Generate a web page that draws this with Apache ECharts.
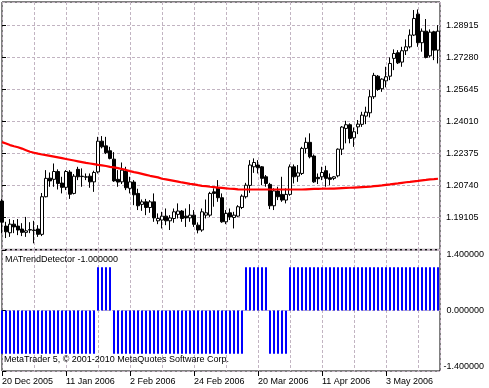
<!DOCTYPE html>
<html><head><meta charset="utf-8">
<script src="https://cdn.jsdelivr.net/npm/echarts@6/dist/echarts.min.js"></script>
<style>html,body{margin:0;padding:0;background:#fff}#c{width:489px;height:388px}</style>
</head><body><div id="c"></div>
<script>
// x-axis tick labels (bar index -> date)
const tickLabels = ['20 Dec 2005','11 Jan 2006','2 Feb 2006','24 Feb 2006','20 Mar 2006','11 Apr 2006','3 May 2006'];
const tickIndex = [0,16,32,48,64,80,96];

const open = [1.1994,1.1866,1.1832,1.1876,1.1866,1.1851,1.1834,1.1846,1.1843,1.1851,
1.1824,1.2016,1.2111,1.2105,1.2145,1.2086,1.2064,1.2142,1.2033,1.2156,
1.2121,1.2116,1.2121,1.2092,1.2143,1.2300,1.2276,1.2251,1.2208,1.2105,
1.2092,1.2147,1.2059,1.2091,1.2033,1.1977,1.1990,1.1961,1.1990,1.1893,
1.1897,1.1917,1.1893,1.1905,1.1926,1.1943,1.1917,1.1908,1.1922,1.1871,
1.1846,1.1922,1.1922,1.2041,1.2062,1.2011,1.1888,1.1934,1.1910,1.1917,
1.1961,1.2016,1.2074,1.2169,1.2178,1.2169,1.2118,1.2079,1.1970,1.2045,
1.2028,1.1999,1.2028,1.2169,1.2121,1.2135,1.2263,1.2294,1.2224,1.2115,
1.2118,1.2149,1.2113,1.2110,1.2123,1.2259,1.2365,1.2384,1.2317,1.2373,
1.2386,1.2428,1.2445,1.2527,1.2632,1.2568,1.2608,1.2632,1.2723,1.2752,
1.2704,1.2762,1.2782,1.2842,1.2949,1.2803,1.2862,1.2736,1.2859,1.2765];

const close = [1.1886,1.1837,1.1876,1.1862,1.1846,1.1834,1.1842,1.1848,1.1846,1.1824,
1.2016,1.2110,1.2097,1.2145,1.2084,1.2064,1.2145,1.2029,1.2121,1.2118,
1.2119,1.2118,1.2092,1.2140,1.2300,1.2271,1.2241,1.2212,1.2097,1.2091,
1.2152,1.2062,1.2092,1.2026,1.1970,1.1990,1.1961,1.1990,1.1908,1.1905,
1.1917,1.1893,1.1908,1.1939,1.1943,1.1905,1.1908,1.1922,1.1875,1.1846,
1.1939,1.1934,1.2033,1.2033,1.2011,1.1888,1.1931,1.1913,1.1922,1.1965,
1.2019,1.2075,1.2178,1.2191,1.2164,1.2110,1.2084,1.1970,1.2046,1.2016,
1.1999,1.2028,1.2169,1.2118,1.2138,1.2263,1.2294,1.2220,1.2092,1.2108,
1.2140,1.2110,1.2105,1.2118,1.2259,1.2372,1.2384,1.2314,1.2348,1.2387,
1.2433,1.2448,1.2527,1.2636,1.2564,1.2617,1.2629,1.2697,1.2748,1.2700,
1.2762,1.2782,1.2842,1.2927,1.2803,1.2862,1.2728,1.2857,1.2765,1.2862];

const high = [1.2004,1.1888,1.1902,1.1897,1.1902,1.1881,1.1913,1.1886,1.1893,1.1871,
1.2035,1.2152,1.2140,1.2186,1.2156,1.2118,1.2152,1.2152,1.2132,1.2169,
1.2161,1.2135,1.2135,1.2149,1.2322,1.2326,1.2322,1.2271,1.2244,1.2152,
1.2191,1.2169,1.2118,1.2101,1.2057,1.2002,1.2005,1.1999,1.2033,1.1931,
1.1939,1.1956,1.1922,1.1956,1.1982,1.1948,1.1956,1.1978,1.1948,1.1885,
1.1956,1.2002,1.2041,1.2059,1.2101,1.2033,1.1948,1.1956,1.1939,1.1973,
1.2028,1.2087,1.2203,1.2212,1.2203,1.2173,1.2127,1.2087,1.2059,1.2067,
1.2118,1.2059,1.2181,1.2181,1.2178,1.2271,1.2319,1.2340,1.2232,1.2135,
1.2169,1.2174,1.2135,1.2121,1.2263,1.2377,1.2404,1.2391,1.2370,1.2408,
1.2450,1.2476,1.2561,1.2649,1.2638,1.2621,1.2680,1.2728,1.2769,1.2765,
1.2782,1.2820,1.2871,1.2970,1.2973,1.2876,1.2924,1.2871,1.2864,1.2893];

const low = [1.1830,1.1805,1.1811,1.1830,1.1820,1.1815,1.1811,1.1830,1.1778,1.1811,
1.1815,1.2013,1.2067,1.2067,1.2053,1.2033,1.2050,1.2005,1.2028,1.2101,
1.2067,1.2101,1.2062,1.2041,1.2135,1.2263,1.2234,1.2207,1.2092,1.2067,
1.2081,1.2050,1.2033,1.1973,1.1948,1.1944,1.1922,1.1934,1.1888,1.1876,
1.1854,1.1871,1.1846,1.1883,1.1905,1.1888,1.1862,1.1888,1.1862,1.1829,
1.1837,1.1905,1.1913,1.1965,1.1990,1.1883,1.1876,1.1897,1.1854,1.1913,
1.1953,1.2007,1.2036,1.2138,1.2135,1.2075,1.2067,1.1953,1.1948,1.1999,
1.1990,1.1982,1.2021,1.2084,1.2092,1.2127,1.2237,1.2212,1.2087,1.2081,
1.2101,1.2067,1.2075,1.2101,1.2115,1.2229,1.2289,1.2289,1.2271,1.2336,
1.2373,1.2387,1.2421,1.2516,1.2557,1.2552,1.2575,1.2612,1.2663,1.2694,
1.2680,1.2740,1.2774,1.2837,1.2782,1.2757,1.2723,1.2728,1.2714,1.2697];

const ma = [1.2295,1.2288,1.2280,1.2274,1.2269,1.2262,1.2254,1.2246,1.2241,1.2236,
1.2232,1.2229,1.2225,1.2221,1.2217,1.2213,1.2209,1.2205,1.2201,1.2197,
1.2193,1.2189,1.2186,1.2183,1.2179,1.2176,1.2173,1.2169,1.2166,1.2162,
1.2158,1.2153,1.2147,1.2142,1.2138,1.2133,1.2128,1.2123,1.2119,1.2115,
1.2108,1.2105,1.2101,1.2097,1.2093,1.2089,1.2086,1.2082,1.2079,1.2075,
1.2072,1.2070,1.2067,1.2065,1.2063,1.2061,1.2059,1.2057,1.2056,1.2054,
1.2053,1.2053,1.2053,1.2053,1.2053,1.2053,1.2053,1.2053,1.2053,1.2053,
1.2053,1.2053,1.2053,1.2053,1.2053,1.2053,1.2054,1.2055,1.2056,1.2056,
1.2057,1.2057,1.2058,1.2058,1.2059,1.2060,1.2061,1.2062,1.2063,1.2064,
1.2065,1.2066,1.2067,1.2070,1.2072,1.2074,1.2077,1.2079,1.2082,1.2084,
1.2087,1.2090,1.2092,1.2095,1.2097,1.2100,1.2102,1.2105,1.2106,1.2108];

const trend = [-1,-1,-1,-1,-1,-1,-1,-1,-1,-1,-1,-1,-1,-1,-1,-1,-1,-1,-1,-1,-1,-1,-1,-1,
1,1,1,1,
-1,-1,-1,-1,-1,-1,-1,-1,-1,-1,-1,-1,-1,-1,-1,-1,-1,-1,-1,-1,-1,-1,-1,-1,-1,-1,-1,-1,-1,-1,-1,-1,-1,
1,1,1,1,1,1,
-1,-1,-1,-1,-1,
1,1,1,1,1,1,1,1,1,1,1,1,1,1,1,1,1,1,1,1,1,1,1,1,1,1,1,1,1,1,1,1,1,1,1,1,1,1];

const indicatorLabel = 'MATrendDetector -1.000000';
const copyright = 'MetaTrader 5, \u00a9 2001-2010 MetaQuotes Software Corp.';

const FONT = 'Liberation Sans';
const chart = echarts.init(document.getElementById('c'), null, {renderer:'canvas'});
const candleData = open.map((o,i)=>[i,o,close[i],low[i],high[i]]);
const maData = ma.map((v,i)=>[i,v]);
const histData = trend.map((v,i)=>[i,v]);
const gridLine = {show:true, lineStyle:{color:'#c2b4c2', type:[3,2], width:1}};
const txt = {fontSize:9, fontFamily:FONT, color:'#000'};

chart.setOption({
  animation:false,
  backgroundColor:'#fff',
  title:[
    {text:indicatorLabel, left:5, top:255, padding:0, textStyle:Object.assign({fontWeight:'normal'}, txt)},
    {text:copyright, left:4, top:355, padding:0, textStyle:Object.assign({fontWeight:'normal'}, txt)}
  ],
  grid:[
    {left:2, top:2, width:438, height:247.4, show:true, borderColor:'#000', borderWidth:1, backgroundColor:'#fff', outerBoundsMode:'none'},
    {left:2, top:250, width:438, height:121, show:true, borderColor:'#000', borderWidth:1, backgroundColor:'#fff', outerBoundsMode:'none'}
  ],
  xAxis:[
    {type:'value', gridIndex:0, min:0, max:109.5, interval:8, axisLine:{show:false}, axisTick:{show:false}, axisLabel:{show:false}, splitLine:gridLine},
    {type:'value', gridIndex:1, min:0, max:109.5, interval:8, position:'top', axisLine:{show:false}, axisTick:{show:false}, axisLabel:{show:false}, splitLine:gridLine},
    {type:'value', gridIndex:1, min:0, max:109.5, interval:16, position:'bottom', axisLine:{show:false},
      axisTick:{show:true, length:5, lineStyle:{color:'#000'}},
      axisLabel:Object.assign({show:true, margin:6, align:'left', showMaxLabel:false,
        formatter:function(v){const k=tickIndex.indexOf(Math.round(v)); return (k>=0 && Math.abs(v-Math.round(v))<1e-6)?tickLabels[k]:'';}}, txt),
      splitLine:{show:false}}
  ],
  yAxis:[
    {type:'value', gridIndex:0, position:'right', min:1.1747, max:1.3011, interval:0.01635,
      axisLine:{show:false}, axisTick:{show:true, length:4, lineStyle:{color:'#000'}},
      axisLabel:Object.assign({margin:6, showMinLabel:false, showMaxLabel:false, formatter:function(v){return v.toFixed(5);}}, txt),
      splitLine:gridLine},
    {type:'value', gridIndex:1, position:'right', min:-1.4, max:1.4, interval:1.4,
      axisLine:{show:false}, axisTick:{show:true, length:4, lineStyle:{color:'#000'}},
      axisLabel:Object.assign({margin:44, align:'right',
        formatter:function(v){const s=v.toFixed(6); if(v>0.5) return '{t|'+s+'}'; if(v<-0.5) return '{b|'+s+'}'; return '{m|'+s+'}';},
        rich:{t:Object.assign({padding:[10,0,0,0]},txt), b:Object.assign({padding:[0,0,8,0]},txt), m:Object.assign({},txt)}}, txt),
      splitLine:gridLine}
  ],
  series:[
    {type:'candlestick', name:'EURUSD', xAxisIndex:0, yAxisIndex:0, data:candleData, barWidth:3,
      itemStyle:{color:'#fff', color0:'#000', borderColor:'#000', borderColor0:'#000', borderWidth:1}},
    {type:'line', name:'MA', xAxisIndex:0, yAxisIndex:0, data:maData, showSymbol:false, symbol:'none',
      lineStyle:{color:'#ff0000', width:2.2}, z:5},
    {type:'bar', name:'MATrendDetector', xAxisIndex:1, yAxisIndex:1, data:histData, barWidth:2,
      itemStyle:{color:'#0000ff'}}
  ]
});
</script></body></html>
